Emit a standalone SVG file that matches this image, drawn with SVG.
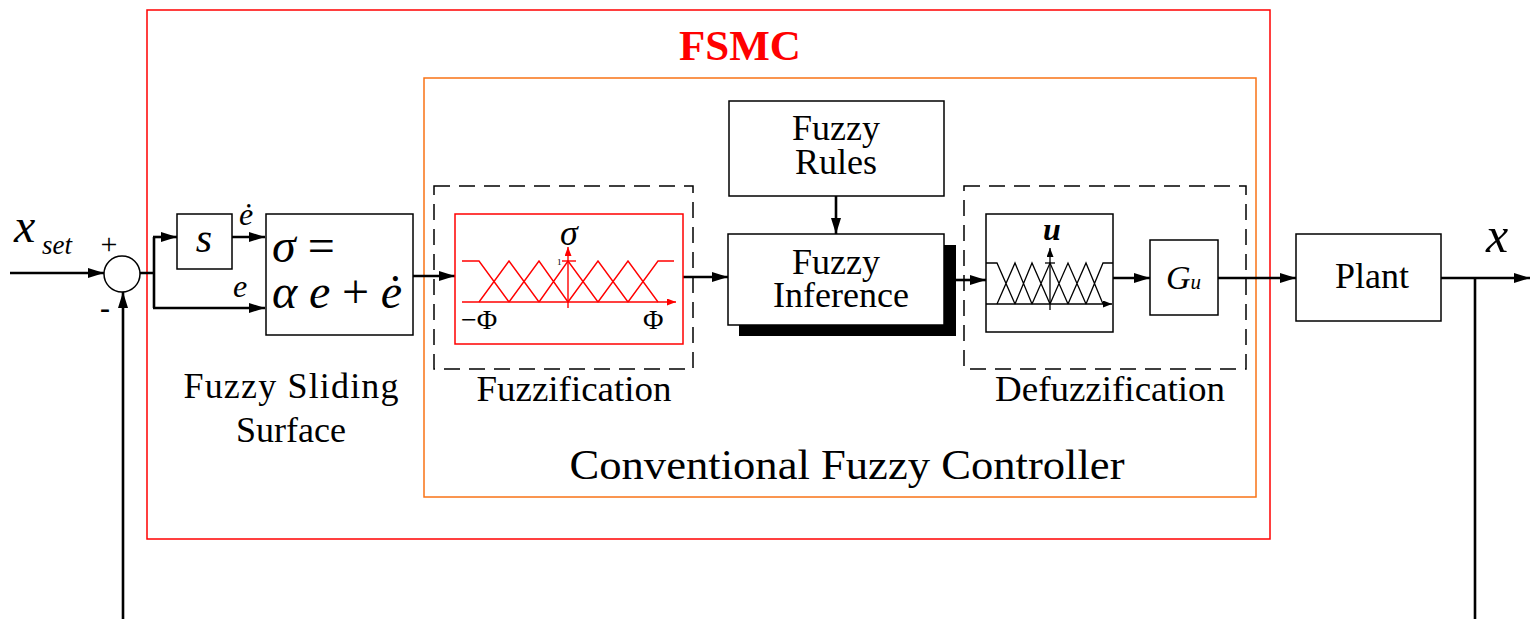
<svg xmlns="http://www.w3.org/2000/svg" width="1533" height="619" viewBox="0 0 1533 619">
<style>
.box{fill:#fff;stroke:#000;stroke-width:1.5}
.ln{fill:none;stroke:#000;stroke-width:2.6}
.dash{fill:none;stroke:#000;stroke-width:1.5;stroke-dasharray:16 9}
.t{font-family:'Liberation Serif','Times New Roman',serif;fill:#000}
.i{font-family:'Liberation Serif','Times New Roman',serif;font-style:italic;fill:#000}
.mf{fill:none;stroke:#f00;stroke-width:1.4}
.mfk{fill:none;stroke:#000;stroke-width:1.3}
</style>
<defs>
<marker id="ah" markerWidth="16" markerHeight="10" refX="16" refY="5" orient="auto" markerUnits="userSpaceOnUse"><path d="M0,0 L16,5 L0,10 z" fill="#000"/></marker>
<marker id="sr" markerWidth="9" markerHeight="7" refX="9" refY="3.5" orient="auto" markerUnits="userSpaceOnUse"><path d="M0,0 L9,3.5 L0,7 z" fill="#f00"/></marker>
<marker id="sk" markerWidth="9" markerHeight="7" refX="9" refY="3.5" orient="auto" markerUnits="userSpaceOnUse"><path d="M0,0 L9,3.5 L0,7 z" fill="#000"/></marker>
</defs>
<rect width="1533" height="619" fill="#fff"/>

<g id="fsmc">
<rect x="147" y="10" width="1123" height="529" fill="none" stroke="#f00" stroke-width="1.5"/>
<text x="740" y="60" text-anchor="middle" font-family="Liberation Serif,serif" font-weight="bold" font-size="43" fill="#f00">FSMC</text>
</g>
<g id="cfc">
<rect x="424" y="78" width="832" height="419" fill="none" stroke="#f97316" stroke-width="1.5"/>
<text class="t" x="847" y="479" text-anchor="middle" font-size="43" textLength="555" lengthAdjust="spacingAndGlyphs">Conventional Fuzzy Controller</text>
</g>

<g id="connectors">
<path class="ln" d="M10,273 H104" marker-end="url(#ah)"/>
<path class="ln" d="M123,619 V292" marker-end="url(#ah)"/>
<path class="ln" d="M140,273 H154 M154,237 V308"/>
<path class="ln" d="M153,237 H177" marker-end="url(#ah)"/>
<path class="ln" d="M153,308 H265" marker-end="url(#ah)"/>
<path class="ln" d="M232,237 H265" marker-end="url(#ah)"/>
<path class="ln" d="M413,276 H455" marker-end="url(#ah)"/>
<path class="ln" d="M683,277 H728" marker-end="url(#ah)"/>
<path class="ln" d="M836,196 V234" marker-end="url(#ah)"/>
<path class="ln" d="M956,280 H986" marker-end="url(#ah)"/>
<path class="ln" d="M1113,278 H1150" marker-end="url(#ah)"/>
<path class="ln" d="M1218,278 H1296" marker-end="url(#ah)"/>
<path class="ln" d="M1441,278 H1530" marker-end="url(#ah)"/>
<path class="ln" d="M1475,278 V619"/>
</g>

<g id="sum">
<circle cx="122" cy="274" r="18" fill="#fff" stroke="#000" stroke-width="1.5"/>
<text class="t" x="109" y="254" text-anchor="middle" font-size="30">+</text>
<text class="t" x="105" y="318" text-anchor="middle" font-size="30" font-weight="bold">-</text>
</g>
<g id="xset">
<text class="i" x="14" y="242" font-size="48">x</text>
<text class="i" x="42" y="254" font-size="27">set</text>
</g>

<g id="sbox">
<rect class="box" x="177" y="214" width="55" height="55"/>
<text class="i" x="204" y="252" text-anchor="middle" font-size="42">s</text>
<text class="i" x="246" y="225" text-anchor="middle" font-size="32">ė</text>
<text class="i" x="240" y="297" text-anchor="middle" font-size="32">e</text>
</g>

<g id="sigma">
<rect class="box" x="266" y="214" width="147" height="121"/>
<text class="i" x="272" y="262" font-size="48">σ <tspan font-style="normal">=</tspan></text>
<text class="i" x="272" y="308" font-size="48" textLength="130" lengthAdjust="spacing">α e <tspan font-style="normal">+</tspan> ė</text>
<text class="t" x="291" y="398" text-anchor="middle" font-size="36" textLength="215" lengthAdjust="spacing">Fuzzy  Sliding</text>
<text class="t" x="291" y="442" text-anchor="middle" font-size="36">Surface</text>
</g>

<g id="fuzzification">
<rect class="dash" x="434" y="186" width="259" height="183"/>
<rect x="455" y="214" width="228" height="130" fill="#fff" stroke="#f00" stroke-width="1.5"/>
<path class="mf" d="M462,261 H479 L509,302 M479,302 L509,261 L539,302 M509,302 L539,261 L568,302 M539,302 L568,261 L598,302 M568,302 L598,261 L628,302 M598,302 L628,261 L658,302 M628,302 L658,261 H674"/>
<path class="mf" d="M462,302 H676" marker-end="url(#sr)"/>
<path class="mf" d="M568,308 V247" marker-end="url(#sr)"/>
<path class="mf" d="M562,261 H576" stroke-width="1"/>
<text class="t" x="557" y="265" font-size="9" fill="#f00">1</text>
<text class="i" x="569" y="245" text-anchor="middle" font-size="36">σ</text>
<text class="t" x="461" y="329" font-size="28">−Φ</text>
<text class="t" x="643" y="329" font-size="28">Φ</text>
<text class="t" x="574" y="401" text-anchor="middle" font-size="36" textLength="195" lengthAdjust="spacingAndGlyphs">Fuzzification</text>
</g>

<g id="rules">
<rect class="box" x="729" y="101" width="215" height="95"/>
<text class="t" x="836" y="140" text-anchor="middle" font-size="36">Fuzzy</text>
<text class="t" x="836" y="174" text-anchor="middle" font-size="36">Rules</text>
</g>

<g id="inference">
<rect x="739" y="245" width="217" height="91" fill="#000"/>
<rect class="box" x="728" y="234" width="216" height="91"/>
<text class="t" x="836" y="274" text-anchor="middle" font-size="36">Fuzzy</text>
<text class="t" x="841" y="307" text-anchor="middle" font-size="36">Inference</text>
</g>

<g id="defuzzification">
<rect class="dash" x="964" y="186" width="282" height="183"/>
<rect class="box" x="986" y="214" width="127" height="118"/>
<path class="mfk" d="M986,263 H997 L1015,304 M997,304 L1015,263 L1032,304 M1015,304 L1032,263 L1050,304 M1032,304 L1050,263 L1068,304 M1050,304 L1068,263 L1086,304 M1068,304 L1086,263 L1103,304 M1086,304 L1103,263 H1113"/>
<path class="mfk" d="M986,304 H1112" marker-end="url(#sk)"/>
<path class="mfk" d="M1050,310 V248" marker-end="url(#sk)"/>
<path class="mfk" d="M1045,263 H1055" stroke-width="1"/>
<text class="i" x="1052" y="240" text-anchor="middle" font-size="32" font-weight="bold">u</text>
<text class="t" x="1110" y="401" text-anchor="middle" font-size="36" textLength="230" lengthAdjust="spacingAndGlyphs">Defuzzification</text>
</g>

<g id="gu">
<rect class="box" x="1150" y="240" width="68" height="75"/>
<text class="i" x="1166" y="289" font-size="34">G<tspan font-size="21">u</tspan></text>
</g>

<g id="plant">
<rect class="box" x="1296" y="234" width="145" height="87"/>
<text class="t" x="1372" y="288" text-anchor="middle" font-size="36">Plant</text>
</g>
<g id="xout">
<text class="i" x="1486" y="252" font-size="50">x</text>
</g>
</svg>
